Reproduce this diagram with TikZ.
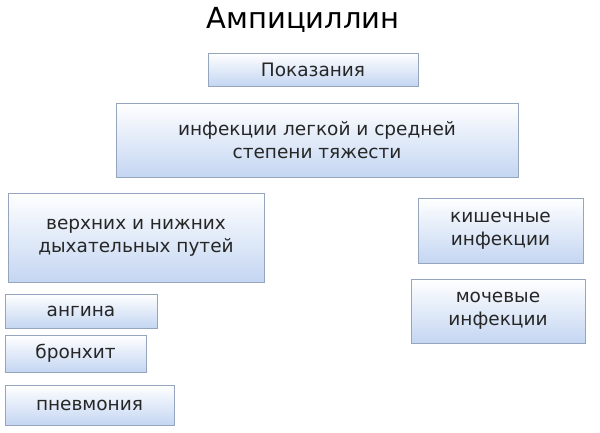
\documentclass[tikz,border=0pt]{standalone}
\usepackage{fontspec}
\setmainfont{DejaVu Sans}
\definecolor{bb}{RGB}{196,214,242}
\definecolor{bd}{RGB}{150,165,190}
\begin{document}
\begin{tikzpicture}[x=1pt,y=-1pt,
  bx/.style={draw=bd,top color=white,bottom color=bb,inner sep=0pt,align=center,font=\fontsize{18.5}{23}\selectfont,text=black!85}]
\useasboundingbox (0,0) rectangle (600,433);
\node (t) at (303,20) {\fontsize{29}{32}\selectfont Ампициллин};
\newcommand\bb[5]{\node[bx,minimum width=#3-#1,minimum height=#4-#2] (#5) at ({(#1+#3)/2},{(#2+#4)/2})}
\bb{208}{53}{418}{86}{p} {Показания};
\bb{116}{103}{518}{177}{m} {инфекции легкой и средней\\степени тяжести};
\bb{8}{193}{264}{282}{v} {верхних и нижних\\дыхательных путей};
\bb{5}{294}{157}{328}{a} {ангина};
\bb{5}{335}{146}{372}{b} {бронхит};
\bb{5}{385}{174}{425}{pn} {пневмония};
\bb{418}{198}{583}{263}{k} {кишечные\\инфекции};
\bb{411}{279}{585}{343}{mo} {мочевые\\инфекции};
\end{tikzpicture}
\end{document}
